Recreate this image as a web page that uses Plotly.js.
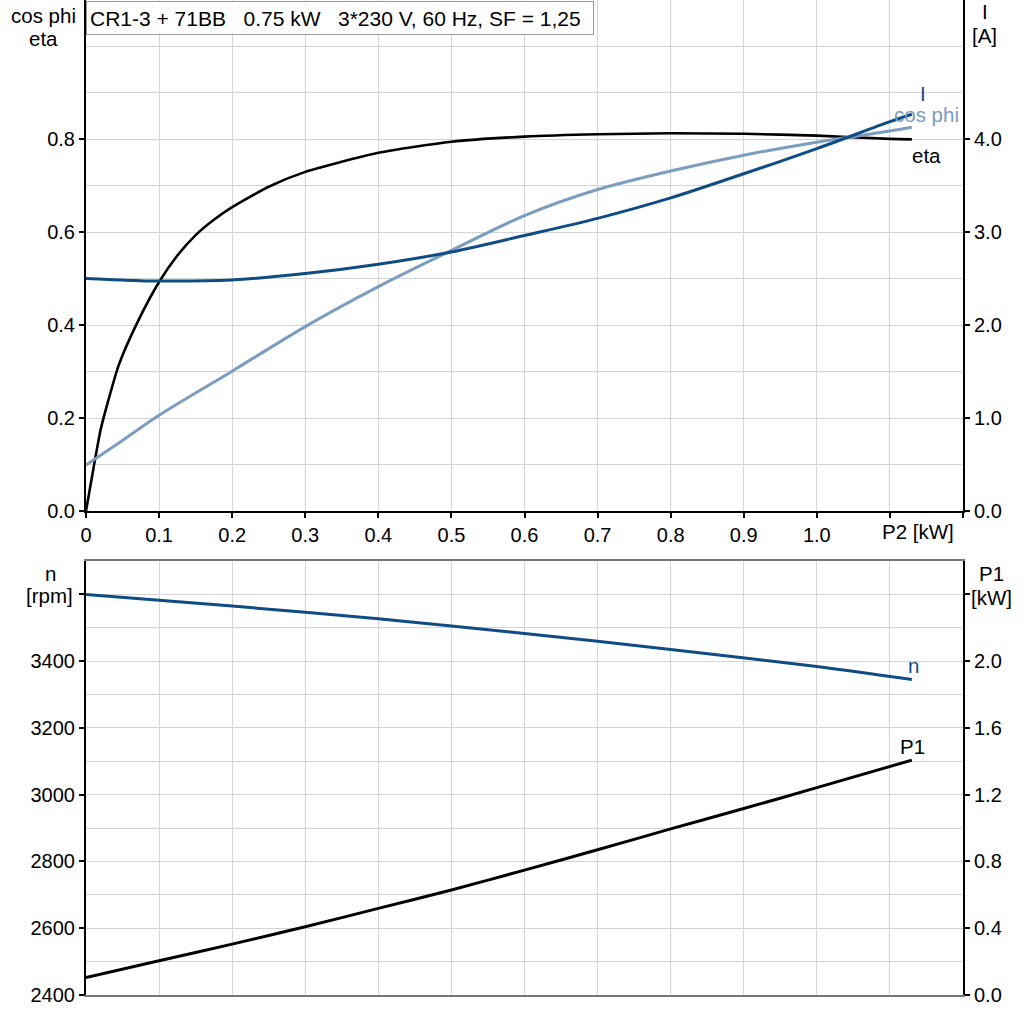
<!DOCTYPE html>
<html>
<head>
<meta charset="utf-8">
<script src="https://cdn.plot.ly/plotly-3.0.1.min.js"></script>
<style>html,body{margin:0;padding:0;background:#fff;}#chart{width:1024px;height:1024px;}</style>
</head>
<body>
<div id="chart"></div>
<script>
// ---- data ----
const etaP2 = [0, 0.01, 0.02, 0.03, 0.045, 0.07, 0.1, 0.125, 0.15, 0.175, 0.2, 0.25, 0.3, 0.4, 0.5, 0.6, 0.7, 0.8, 0.9, 1.0, 1.1, 1.13];
const etaVals = [0, 0.09, 0.175, 0.235, 0.315, 0.405, 0.493, 0.55, 0.594, 0.627, 0.654, 0.698, 0.730, 0.771, 0.795, 0.806, 0.811, 0.813, 0.812, 0.808, 0.801, 0.800];

const cosP2 = [0, 0.05, 0.1, 0.2, 0.3, 0.4, 0.5, 0.6, 0.7, 0.8, 0.9, 1.0, 1.1, 1.13];
const cosVals = [0.099, 0.152, 0.206, 0.301, 0.397, 0.483, 0.561, 0.636, 0.692, 0.732, 0.766, 0.794, 0.818, 0.826];

const curP2 = [0, 0.05, 0.1, 0.2, 0.3, 0.4, 0.5, 0.6, 0.7, 0.8, 0.9, 1.0, 1.1, 1.13];
const curVals = [2.502, 2.485, 2.475, 2.487, 2.556, 2.656, 2.788, 2.965, 3.15, 3.37, 3.63, 3.90, 4.19, 4.27];

const nP2 = [0, 0.2, 0.4, 0.6, 0.8, 1.0, 1.13];
const nVals = [3600, 3565, 3527, 3483, 3435, 3384, 3345];

const p1P2 = [0, 0.1, 0.2, 0.3, 0.4, 0.5, 0.6, 0.7, 0.8, 0.9, 1.0, 1.13];
const p1Vals = [0.104, 0.205, 0.305, 0.409, 0.519, 0.629, 0.748, 0.87, 0.995, 1.117, 1.242, 1.407];

const xTickVals = [0, 0.1, 0.2, 0.3, 0.4, 0.5, 0.6, 0.7, 0.8, 0.9, 1.0, 1.1, 1.2];
const xTickText = ['0', '0.1', '0.2', '0.3', '0.4', '0.5', '0.6', '0.7', '0.8', '0.9', '1.0', '', ''];
const effTickVals = [0, 0.2, 0.4, 0.6, 0.8];
const effTickText = ['0.0', '0.2', '0.4', '0.6', '0.8'];
const effMinor = [0.1, 0.3, 0.5, 0.7, 0.9, 1.0];
const curTickVals = [0, 1, 2, 3, 4];
const curTickText = ['0.0', '1.0', '2.0', '3.0', '4.0'];
const rpmTickVals = [2400, 2600, 2800, 3000, 3200, 3400, 3600];
const rpmTickText = ['2400', '2600', '2800', '3000', '3200', '3400', ''];
const rpmMinor = [2500, 2700, 2900, 3100, 3300, 3500];
const p1TickVals = [0, 0.4, 0.8, 1.2, 1.6, 2.0, 2.4];
const p1TickText = ['0.0', '0.4', '0.8', '1.2', '1.6', '2.0', ''];

const titleText = 'CR1-3 + 71BB\u00a0\u00a0\u00a00.75 kW\u00a0\u00a0\u00a03*230 V, 60 Hz, SF = 1,25';

// ---- styling ----
const DARK = '#0f4c84';
const LIGHT = '#7b9dbf';
const GRID = '#d4d4d4';
const FAMILY = '"Liberation Sans", Arial, sans-serif';
const FONT = {family: FAMILY, size: 20, color: '#000'};
const LFONT = {family: FAMILY, size: 20.5, color: '#000'};

const L = 86, R = 963, B = 995;
const PX = x => (x - L) / (R - L);
const PY = y => (B - y) / B;

const traces = [
  {x: etaP2, y: etaVals, xaxis: 'x', yaxis: 'y', mode: 'lines', line: {color: '#000', width: 2.6, shape: 'spline', smoothing: 0.6}, hoverinfo: 'skip'},
  {x: cosP2, y: cosVals, xaxis: 'x', yaxis: 'y', mode: 'lines', line: {color: LIGHT, width: 3, shape: 'spline', smoothing: 0.8}, hoverinfo: 'skip'},
  {x: curP2, y: curVals, xaxis: 'x', yaxis: 'y2', mode: 'lines', line: {color: DARK, width: 3, shape: 'spline', smoothing: 0.8}, hoverinfo: 'skip'},
  {x: nP2, y: nVals, xaxis: 'x2', yaxis: 'y3', mode: 'lines', line: {color: DARK, width: 3, shape: 'spline', smoothing: 0.8}, hoverinfo: 'skip'},
  {x: p1P2, y: p1Vals, xaxis: 'x2', yaxis: 'y4', mode: 'lines', line: {color: '#000', width: 3, shape: 'spline', smoothing: 0.8}, hoverinfo: 'skip'}
];

const axBase = {showline: true, linecolor: '#000', linewidth: 2, zeroline: false, tickfont: FONT, tickcolor: '#000', tickwidth: 2, ticklen: 5, fixedrange: true, gridcolor: GRID, gridwidth: 1};

function ann(text, x, y, color, extra) {
  return Object.assign({text: text, x: PX(x), y: PY(y), xref: 'paper', yref: 'paper', showarrow: false, font: Object.assign({}, LFONT, {color: color || '#000'}), xanchor: 'center', yanchor: 'middle'}, extra || {});
}

const layout = {
  width: 1024, height: 1024,
  margin: {l: L, r: 1024 - R, t: 0, b: 1024 - B},
  paper_bgcolor: '#fff', plot_bgcolor: '#fff',
  showlegend: false,
  font: FONT,
  xaxis: Object.assign({}, axBase, {domain: [0, 1], anchor: 'y', range: [0, 1.2], tickmode: 'array', tickvals: xTickVals, ticktext: xTickText, ticks: 'outside', showgrid: true}),
  yaxis: Object.assign({}, axBase, {domain: [PY(511), 1], anchor: 'x', range: [0, 1.1], tickmode: 'array', tickvals: effTickVals, ticktext: effTickText, ticks: 'outside', showgrid: true,
    minor: {tickmode: 'array', tickvals: effMinor, showgrid: true, gridcolor: GRID, gridwidth: 1, ticks: ''}}),
  yaxis2: Object.assign({}, axBase, {overlaying: 'y', side: 'right', anchor: 'x', range: [0, 5.5], tickmode: 'array', tickvals: curTickVals, ticktext: curTickText, ticks: 'outside', showgrid: false}),
  xaxis2: Object.assign({}, axBase, {domain: [0, 1], anchor: 'y3', range: [0, 1.2], tickmode: 'array', tickvals: xTickVals, showticklabels: false, ticks: '', showgrid: true, linecolor: '#777', mirror: true}),
  yaxis3: Object.assign({}, axBase, {domain: [0, PY(561)], anchor: 'x2', range: [2400, 3700], tickmode: 'array', tickvals: rpmTickVals, ticktext: rpmTickText, ticks: 'outside', showgrid: true,
    minor: {tickmode: 'array', tickvals: rpmMinor, showgrid: true, gridcolor: GRID, gridwidth: 1, ticks: ''}}),
  yaxis4: Object.assign({}, axBase, {overlaying: 'y3', side: 'right', anchor: 'x2', range: [0, 2.6], tickmode: 'array', tickvals: p1TickVals, ticktext: p1TickText, ticks: 'outside', showgrid: false}),
  annotations: [
    ann(titleText, 86, 1, '#000', {xanchor: 'left', yanchor: 'top', width: 500, height: 26, align: 'left', bgcolor: '#fff', bordercolor: '#999', borderwidth: 1, borderpad: 3, font: {family: FAMILY, size: 21, color: '#000'}}),
    ann('cos phi', 43, 16),
    ann('eta', 43, 38),
    ann('I', 985, 12),
    ann('[A]', 985, 35),
    ann('P2 [kW]', 918, 531),
    ann('n', 50, 573),
    ann('[rpm]', 49, 595),
    ann('P1', 991, 573),
    ann('[kW]', 991, 597),
    ann('I', 923, 93, DARK),
    ann('cos phi', 926, 115, LIGHT),
    ann('eta', 926, 155, '#000'),
    ann('n', 913, 666, DARK),
    ann('P1', 912, 746, '#000')
  ]
};

Plotly.newPlot('chart', traces, layout, {staticPlot: true, displayModeBar: false});
</script>
</body>
</html>
